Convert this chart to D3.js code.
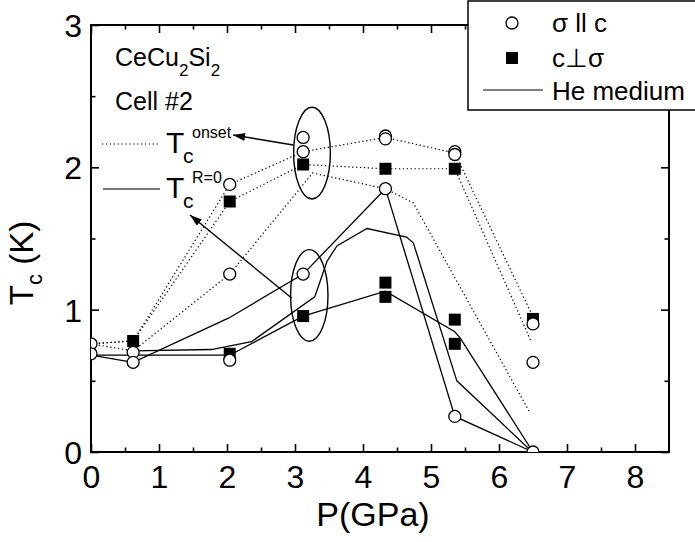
<!DOCTYPE html>
<html>
<head>
<meta charset="utf-8">
<script src="https://cdn.jsdelivr.net/npm/d3@7"></script>
<style>
  body { margin: 0; background: #fff; }
  svg text { font-family: "Liberation Sans", Arial, sans-serif; fill: #000; }
</style>
</head>
<body>
<div id="chart"></div>
<script>

// Tick values
const xMajorTicks = [0, 1, 2, 3, 4, 5, 6, 7, 8];
const xMinorTicks = [0.5, 1.5, 2.5, 3.5, 4.5, 5.5, 6.5, 7.5];
const yMajorTicks = [0, 1, 2, 3];
const yMinorTicks = [0.5, 1.5, 2.5];

// Open circles, sigma ll c
const sigmaParP  = [0, 0, 0.62, 0.62, 2.04, 2.04, 2.04, 3.12, 3.12, 3.12, 4.33, 4.33, 4.33, 5.35, 5.35, 5.35, 6.5, 6.5, 6.5];
const sigmaParTc = [0.76, 0.69, 0.70, 0.63, 1.88, 1.25, 0.645, 2.21, 2.11, 1.25, 2.22, 2.20, 1.85, 2.11, 2.09, 0.25, 0.90, 0.63, 0];

// Filled squares, c perp sigma
const cPerpP  = [0.62, 2.04, 2.04, 3.12, 3.12, 4.33, 4.33, 4.33, 5.35, 5.35, 5.35, 6.5];
const cPerpTc = [0.78, 1.76, 0.69, 2.02, 0.955, 1.99, 1.19, 1.09, 1.99, 0.93, 0.76, 0.935];

// Tc onset (dotted)
const onsetAP  = [0, 0.62, 2.04, 3.12, 4.33, 5.35, 6.47];
const onsetATc = [0.76, 0.78, 1.88, 2.11, 2.21, 2.10, 0.98];
const onsetBP  = [0, 0.62, 2.04, 3.12, 4.33, 5.35, 6.47];
const onsetBTc = [0.76, 0.78, 1.76, 2.02, 1.99, 1.99, 0.78];
const onsetCP  = [0, 0.62, 2.04, 3.26, 4.33, 4.74, 6.45];
const onsetCTc = [0.76, 0.71, 1.25, 1.96, 1.85, 1.75, 0.28];

// Tc R=0 (solid)
const zeroAP  = [0, 0.62, 2.02, 3.12, 4.33, 5.35, 6.5];
const zeroATc = [0.68, 0.63, 0.94, 1.25, 1.85, 0.25, 0];
const zeroBP  = [0, 0.62, 2.04, 3.12, 4.33, 5.35, 5.43, 6.5];
const zeroBTc = [0.68, 0.68, 0.68, 0.955, 1.13, 0.845, 0.80, 0];

// He medium (solid, no markers)
const heP  = [0.62, 1.77, 2.36, 3.29, 3.37, 3.47, 3.62, 4.06, 4.64, 4.74, 5.38, 6.49];
const heTc = [0.71, 0.72, 0.775, 1.09, 1.2, 1.34, 1.45, 1.57, 1.51, 1.47, 0.5, 0];

// Ellipse annotations (centre P, centre Tc, radius P, radius Tc)
const ellipseCx = [3.25, 3.21];
const ellipseCy = [2.10, 1.10];
const ellipseRx = [0.27, 0.275];
const ellipseRy = [0.322, 0.322];

// Arrow annotations (tail -> head)
const arrowFromP  = [2.975, 2.95];
const arrowFromTc = [2.157, 1.082];
const arrowToP    = [2.09, 1.456];
const arrowToTc   = [2.227, 1.665];

// Chart setup
const W = 695, H = 542;
const margin = {top: 25, right: 26, bottom: 90, left: 91};
const width = W - margin.left - margin.right;
const height = H - margin.top - margin.bottom;

const svg = d3.select("#chart").append("svg")
  .attr("width", W)
  .attr("height", H);

const defs = svg.append("defs");
defs.append("clipPath").attr("id", "plotClip")
  .append("rect").attr("width", width).attr("height", height);

defs.append("marker")
  .attr("id", "arrowHead")
  .attr("markerUnits", "userSpaceOnUse")
  .attr("viewBox", "0 0 12 8")
  .attr("refX", 12).attr("refY", 4)
  .attr("markerWidth", 12).attr("markerHeight", 8)
  .attr("orient", "auto")
  .append("path").attr("d", "M0,0 L12,4 L0,8 Z").attr("fill", "#000");

const chart = svg.append("g")
  .attr("transform", "translate(" + margin.left + "," + margin.top + ")");

// Scales
const x = d3.scaleLinear().domain([0, 8.5]).range([0, width]);
const y = d3.scaleLinear().domain([0, 3]).range([height, 0]);

// Axes (ticks point inward)
const fontSize = 32;
function styleAxis(g){
  g.select(".domain").remove();
  g.selectAll("line").attr("stroke", "#000").attr("stroke-width", 1.6);
  g.selectAll("text").attr("font-size", fontSize).attr("fill", "#000")
   .attr("font-family", "Liberation Sans, Arial, sans-serif");
}

chart.append("g")
  .attr("transform", "translate(0," + height + ")")
  .call(d3.axisBottom(x).tickValues(xMajorTicks).tickSizeInner(-8).tickSizeOuter(0).tickPadding(13).tickFormat(d3.format("d")))
  .call(styleAxis);
chart.append("g")
  .attr("transform", "translate(0," + height + ")")
  .call(d3.axisBottom(x).tickValues(xMinorTicks).tickSizeInner(-4.5).tickSizeOuter(0).tickFormat(""))
  .call(styleAxis);
chart.append("g")
  .call(d3.axisTop(x).tickValues(xMajorTicks).tickSizeInner(-8).tickSizeOuter(0).tickFormat(""))
  .call(styleAxis);
chart.append("g")
  .call(d3.axisTop(x).tickValues(xMinorTicks).tickSizeInner(-4.5).tickSizeOuter(0).tickFormat(""))
  .call(styleAxis);

chart.append("g")
  .call(d3.axisLeft(y).tickValues(yMajorTicks).tickSizeInner(-8).tickSizeOuter(0).tickPadding(9).tickFormat(d3.format("d")))
  .call(styleAxis)
  .selectAll("text").attr("dy", "0.36em");
chart.append("g")
  .call(d3.axisLeft(y).tickValues(yMinorTicks).tickSizeInner(-4.5).tickSizeOuter(0).tickFormat(""))
  .call(styleAxis);
chart.append("g")
  .attr("transform", "translate(" + width + ",0)")
  .call(d3.axisRight(y).tickValues(yMajorTicks).tickSizeInner(-8).tickSizeOuter(0).tickFormat(""))
  .call(styleAxis);
chart.append("g")
  .attr("transform", "translate(" + width + ",0)")
  .call(d3.axisRight(y).tickValues(yMinorTicks).tickSizeInner(-4.5).tickSizeOuter(0).tickFormat(""))
  .call(styleAxis);

// Frame
chart.append("rect")
  .attr("width", width).attr("height", height)
  .attr("fill", "none").attr("stroke", "#000").attr("stroke-width", 2);

// Axis titles
svg.append("text")
  .attr("x", 373).attr("y", 526)
  .attr("text-anchor", "middle")
  .attr("font-size", 34)
  .text("P(GPa)");

const yTitle = svg.append("text")
  .attr("transform", "translate(33,263) rotate(-90)")
  .attr("text-anchor", "middle")
  .attr("font-size", 33);
yTitle.append("tspan").text("T");
yTitle.append("tspan").attr("font-size", 22).attr("dy", 9).text("c");
yTitle.append("tspan").attr("dy", -9).text(" (K)");

// Plot content, clipped to the frame
const plot = chart.append("g").attr("clip-path", "url(#plotClip)");

const line = d3.line().x(d => x(d[0])).y(d => y(d[1]));
const zipPts = (ps, ts) => ps.map((p, i) => [p, ts[i]]);

const dotted = [[onsetAP, onsetATc], [onsetBP, onsetBTc], [onsetCP, onsetCTc]];
const solid = [[zeroAP, zeroATc], [zeroBP, zeroBTc], [heP, heTc]];

plot.selectAll(".onset").data(dotted).enter().append("path")
  .attr("class", "onset")
  .attr("d", d => line(zipPts(d[0], d[1])))
  .attr("fill", "none").attr("stroke", "#000")
  .attr("stroke-width", 1.2).attr("stroke-dasharray", "1.3,2.6");

plot.selectAll(".zero").data(solid).enter().append("path")
  .attr("class", "zero")
  .attr("d", d => line(zipPts(d[0], d[1])))
  .attr("fill", "none").attr("stroke", "#000").attr("stroke-width", 1.3);

// Ellipses
plot.selectAll(".ell").data(ellipseCx).enter().append("ellipse")
  .attr("class", "ell")
  .attr("cx", d => x(d))
  .attr("cy", (d, i) => y(ellipseCy[i]))
  .attr("rx", (d, i) => x(ellipseRx[i]) - x(0))
  .attr("ry", (d, i) => y(0) - y(ellipseRy[i]))
  .attr("fill", "none").attr("stroke", "#000").attr("stroke-width", 1.4);

// Squares
const sq = 12;
plot.selectAll(".sq").data(zipPts(cPerpP, cPerpTc)).enter().append("rect")
  .attr("class", "sq")
  .attr("x", d => x(d[0]) - sq / 2).attr("y", d => y(d[1]) - sq / 2)
  .attr("width", sq).attr("height", sq)
  .attr("fill", "#000");

// Circles
plot.selectAll(".circ").data(zipPts(sigmaParP, sigmaParTc)).enter().append("circle")
  .attr("class", "circ")
  .attr("cx", d => x(d[0])).attr("cy", d => y(d[1]))
  .attr("r", 6)
  .attr("fill", "#fff").attr("stroke", "#000").attr("stroke-width", 1.3);

// Arrows
chart.selectAll(".arrow").data(arrowFromP).enter().append("line")
  .attr("class", "arrow")
  .attr("x1", d => x(d)).attr("y1", (d, i) => y(arrowFromTc[i]))
  .attr("x2", (d, i) => x(arrowToP[i])).attr("y2", (d, i) => y(arrowToTc[i]))
  .attr("stroke", "#000").attr("stroke-width", 1.4)
  .attr("marker-end", "url(#arrowHead)");

// Sample labels
const t1 = svg.append("text").attr("x", 115).attr("y", 66).attr("font-size", 25);
t1.append("tspan").text("CeCu");
t1.append("tspan").attr("font-size", 17).attr("dy", 10).text("2");
t1.append("tspan").attr("dy", -10).text("Si");
t1.append("tspan").attr("font-size", 17).attr("dy", 10).text("2");

svg.append("text").attr("x", 115).attr("y", 110).attr("font-size", 25).text("Cell #2");

// In-plot key for Tc onset and Tc R=0
svg.append("line").attr("x1", 102).attr("x2", 158).attr("y1", 144).attr("y2", 144)
  .attr("stroke", "#000").attr("stroke-width", 1.2).attr("stroke-dasharray", "1.3,2.6");
svg.append("line").attr("x1", 103).attr("x2", 160).attr("y1", 189).attr("y2", 189)
  .attr("stroke", "#777").attr("stroke-width", 1.8);

function tcLabel(yBase, sup){
  svg.append("text").attr("x", 166).attr("y", yBase).attr("font-size", 30).text("T");
  svg.append("text").attr("x", 183).attr("y", yBase + 10).attr("font-size", 21).text("c");
  svg.append("text").attr("x", 192).attr("y", yBase - 15).attr("font-size", 16).text(sup);
}
tcLabel(153, "onset");
tcLabel(198, "R=0");

// Legend box
const legend = svg.append("g");
legend.append("rect")
  .attr("x", 468).attr("y", 1).attr("width", 240).attr("height", 109)
  .attr("fill", "#fff").attr("stroke", "#000").attr("stroke-width", 1.5);
legend.append("circle").attr("cx", 512).attr("cy", 23).attr("r", 6)
  .attr("fill", "#fff").attr("stroke", "#000").attr("stroke-width", 1.3);
legend.append("rect").attr("x", 506).attr("y", 52).attr("width", 12).attr("height", 12).attr("fill", "#000");
legend.append("line").attr("x1", 483).attr("x2", 543).attr("y1", 90).attr("y2", 90)
  .attr("stroke", "#000").attr("stroke-width", 1.2);
legend.append("text").attr("x", 552).attr("y", 32).attr("font-size", 26).text("σ ll c");
legend.append("text").attr("x", 552).attr("y", 67).attr("font-size", 26).text("c⊥σ");
legend.append("text").attr("x", 552).attr("y", 100).attr("font-size", 26).text("He medium");

</script>
</body>
</html>
